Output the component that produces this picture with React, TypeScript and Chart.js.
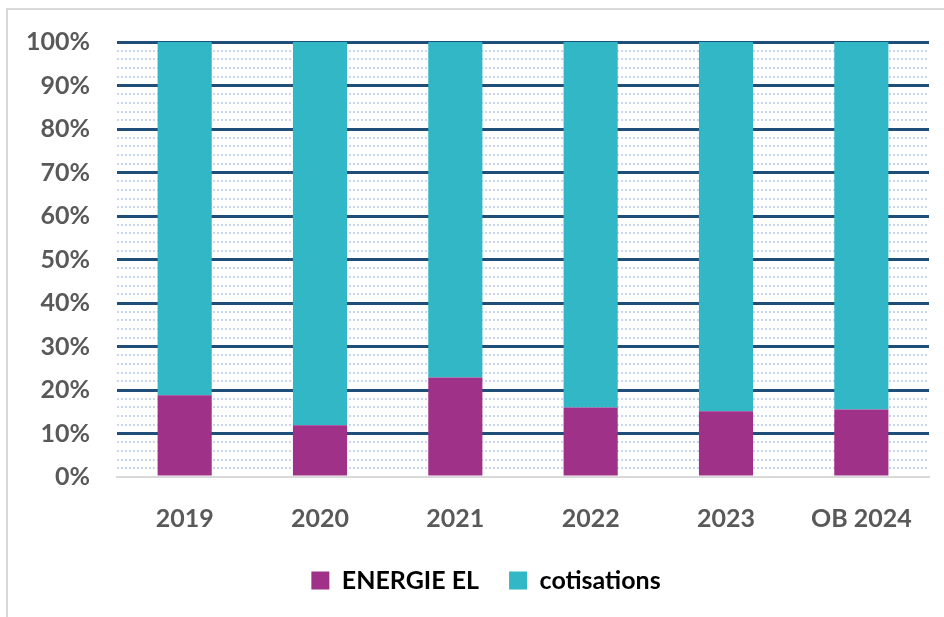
import React, { useEffect, useRef } from 'react';
import { Chart, registerables } from 'chart.js';

Chart.register(...registerables);

const categories = ['2019', '2020', '2021', '2022', '2023', 'OB 2024'];
const energieEl = [18.8, 11.9, 22.9, 16.0, 15.1, 15.5];
const cotisations = [81.2, 88.1, 77.1, 84.0, 84.9, 84.5];
const seriesNames = ['ENERGIE EL', 'cotisations'];
const seriesColors = ['#9F3189', '#31B7C6'];
const yMajorStep = 10;
const yMinorStep = 2;

const FONT = 'Lato';

export default function App() {
  const ref = useRef<HTMLCanvasElement | null>(null);

  useEffect(() => {
    if (!ref.current) return;
    const chart = new Chart(ref.current, {
      type: 'bar',
      data: {
        labels: categories,
        datasets: [
          {
            label: seriesNames[0],
            data: energieEl,
            backgroundColor: seriesColors[0],
            barPercentage: 0.4,
            categoryPercentage: 1,
            yAxisID: 'y',
          },
          {
            label: seriesNames[1],
            data: cotisations,
            backgroundColor: seriesColors[1],
            barPercentage: 0.4,
            categoryPercentage: 1,
            yAxisID: 'y',
          },
        ],
      },
      options: {
        responsive: false,
        animation: false,
        devicePixelRatio: 1,
        layout: { padding: { top: 38, right: 0, bottom: 14, left: 20 } },
        plugins: {
          tooltip: { enabled: false },
          legend: {
            position: 'bottom',
            labels: {
              boxWidth: 18,
              boxHeight: 18,
              padding: 30,
              color: '#000000',
              font: { family: FONT, weight: 'bold', size: 25 },
            },
          },
        },
        scales: {
          x: {
            stacked: true,
            grid: { display: false },
            border: { display: true, color: '#d9d9d9', width: 2 },
            ticks: {
              color: '#595959',
              padding: 19,
              font: { family: FONT, weight: 'bold', size: 25 },
            },
            afterFit: (s: any) => {
              s.height = 61;
            },
          },
          y: {
            stacked: true,
            position: 'left',
            min: 0,
            max: 100,
            ticks: {
              stepSize: yMajorStep,
              color: '#595959',
              padding: 27,
              font: { family: FONT, weight: 'bold', size: 25 },
              callback: (v: any) => v + '%',
            },
            grid: {
              drawTicks: false,
              lineWidth: 3,
              color: (ctx: any) =>
                ctx.tick && ctx.tick.value === 0 ? 'rgba(0,0,0,0)' : '#1F4E79',
            },
            border: { display: false },
            afterFit: (s: any) => {
              s.width = 97;
            },
          },
          yMinor: {
            type: 'linear',
            position: 'right',
            min: 0,
            max: 100,
            ticks: { stepSize: yMinorStep, display: false },
            grid: {
              drawTicks: false,
              lineWidth: 2,
              color: (ctx: any) =>
                ctx.tick && ctx.tick.value % yMajorStep === 0
                  ? 'rgba(0,0,0,0)'
                  : '#C8D6F1',
            },
            border: { display: false, dash: [2, 2] },
            afterFit: (s: any) => {
              s.width = 23;
            },
          },
        },
      },
    } as any);
    return () => chart.destroy();
  }, []);

  return (
    <div
      style={{
        position: 'absolute',
        left: 0,
        top: 0,
        width: 944,
        height: 617,
        overflow: 'hidden',
        background: '#ffffff',
      }}
    >
      <div
        style={{
          position: 'absolute',
          left: 6,
          top: 8,
          width: 1200,
          height: 1200,
          borderLeft: '2px solid #d9d9d9',
          borderTop: '2px solid #d9d9d9',
        }}
      />
      <canvas
        ref={ref}
        width={952}
        height={617}
        style={{ position: 'absolute', left: 0, top: 0, width: 952, height: 617 }}
      />
    </div>
  );
}
